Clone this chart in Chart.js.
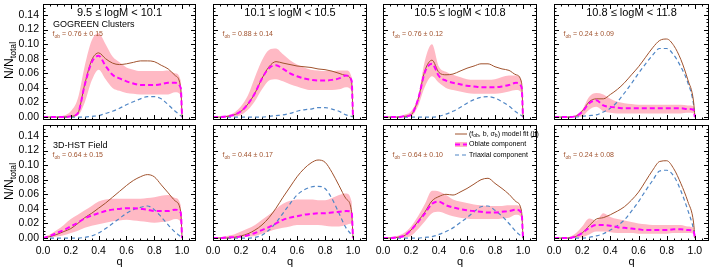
<!DOCTYPE html>
<html>
<head>
<meta charset="utf-8">
<script src="https://cdn.jsdelivr.net/npm/chart.js@4.4.1/dist/chart.umd.min.js"></script>
<style>
  body { margin: 0; background: #fff; }
  #wrap { position: relative; width: 720px; height: 271px; overflow: hidden; background: #fff; }
  canvas { position: absolute; }
</style>
</head>
<body>
<div id="wrap"></div>
<script>
// axial ratio grid
const q = [0, 0.05, 0.1, 0.15, 0.2, 0.25, 0.3, 0.35, 0.4, 0.45, 0.5, 0.55, 0.6, 0.65, 0.7, 0.75, 0.8, 0.85, 0.9, 0.95, 0.99, 1.0];
const xTicks = [0, 0.2, 0.4, 0.6, 0.8, 1.0];
const yTicks = [0, 0.02, 0.04, 0.06, 0.08, 0.10, 0.12, 0.14];

const massBins = ['9.5 \u2264 logM < 10.1', '10.1 \u2264 logM < 10.5', '10.5 \u2264 logM < 10.8', '10.8 \u2264 logM < 11.8'];
const samples = ['GOGREEN Clusters', '3D-HST Field'];
const fobClusters = ['0.76 \u00b1 0.15', '0.88 \u00b1 0.14', '0.76 \u00b1 0.12', '0.24 \u00b1 0.09'];
const fobField = ['0.64 \u00b1 0.15', '0.44 \u00b1 0.17', '0.64 \u00b1 0.10', '0.24 \u00b1 0.08'];

// GOGREEN clusters: model fit, oblate, triaxial, oblate band low/high
const g1fit = [0,0,0,0,0.001,0.005,0.045,0.078,0.088,0.080,0.074,0.072,0.073,0.075,0.077,0.077,0.076,0.071,0.066,0.057,0.040,0];
const g1obl = [0,0,0,0,0.001,0.005,0.044,0.075,0.084,0.070,0.058,0.053,0.049,0.046,0.044,0.044,0.044,0.045,0.047,0.047,0.040,0];
const g1tri = [0,0,0,0,0,0,0,0.001,0.002,0.005,0.008,0.012,0.017,0.021,0.025,0.028,0.028,0.025,0.017,0.008,0.002,0];
const g1lo  = [0,0,0,0,0,0.002,0.020,0.050,0.065,0.052,0.040,0.036,0.033,0.032,0.031,0.031,0.031,0.031,0.031,0.034,0.030,0];
const g1hi  = [0,0,0,0.002,0.008,0.025,0.070,0.105,0.115,0.100,0.083,0.075,0.068,0.065,0.063,0.063,0.063,0.063,0.064,0.060,0.050,0];

const g2fit = [0,0,0.001,0.003,0.008,0.018,0.033,0.053,0.069,0.076,0.074,0.072,0.070,0.069,0.068,0.066,0.065,0.063,0.060,0.057,0.049,0];
const g2obl = [0,0,0.001,0.003,0.008,0.018,0.033,0.053,0.067,0.071,0.066,0.060,0.056,0.053,0.051,0.050,0.050,0.051,0.053,0.057,0.050,0];
const g2tri = [0,0,0,0,0,0,0,0,0.001,0.002,0.003,0.005,0.008,0.010,0.011,0.013,0.013,0.011,0.008,0.003,0.001,0];
const g2lo  = [0,0,0,0.001,0.003,0.010,0.022,0.038,0.050,0.052,0.049,0.045,0.042,0.039,0.037,0.037,0.037,0.037,0.038,0.041,0.036,0];
const g2hi  = [0,0,0.002,0.006,0.015,0.030,0.055,0.078,0.092,0.094,0.086,0.078,0.072,0.068,0.065,0.064,0.063,0.063,0.064,0.064,0.055,0];

const g3fit = [0,0,0,0.001,0.003,0.024,0.064,0.078,0.061,0.058,0.059,0.063,0.067,0.070,0.073,0.073,0.069,0.066,0.064,0.058,0.047,0];
const g3obl = [0,0,0,0.001,0.003,0.024,0.062,0.073,0.056,0.050,0.047,0.045,0.043,0.042,0.041,0.041,0.041,0.042,0.044,0.047,0.041,0];
const g3tri = [0,0,0,0,0,0,0,0,0.001,0.004,0.008,0.013,0.019,0.024,0.027,0.028,0.026,0.021,0.015,0.007,0.002,0];
const g3lo  = [0,0,0,0,0.001,0.015,0.042,0.056,0.047,0.040,0.037,0.035,0.033,0.032,0.032,0.032,0.032,0.033,0.035,0.037,0.033,0];
const g3hi  = [0,0,0,0.003,0.008,0.028,0.078,0.100,0.069,0.062,0.058,0.055,0.052,0.051,0.051,0.051,0.052,0.055,0.057,0.057,0.050,0];

const g4fit = [0,0,0,0.001,0.008,0.021,0.025,0.025,0.031,0.038,0.047,0.058,0.069,0.082,0.095,0.105,0.107,0.098,0.079,0.051,0.022,0];
const g4obl = [0,0,0,0.001,0.007,0.019,0.023,0.016,0.014,0.013,0.012,0.012,0.012,0.012,0.012,0.012,0.012,0.012,0.012,0.011,0.010,0];
const g4tri = [0,0,0,0,0.001,0.002,0.003,0.007,0.012,0.021,0.033,0.046,0.060,0.073,0.085,0.094,0.094,0.085,0.069,0.047,0.018,0];
const g4lo  = [0,0,0,0,0.001,0.010,0.014,0.008,0.006,0.005,0.005,0.005,0.005,0.005,0.005,0.005,0.005,0.005,0.005,0.006,0.005,0];
const g4hi  = [0,0,0,0.002,0.010,0.028,0.033,0.031,0.025,0.021,0.019,0.018,0.017,0.017,0.017,0.017,0.017,0.017,0.017,0.016,0.015,0];

// 3D-HST field
const h1fit = [0,0.002,0.005,0.009,0.013,0.020,0.028,0.034,0.041,0.048,0.056,0.064,0.072,0.079,0.084,0.087,0.084,0.073,0.062,0.051,0.036,0];
const h1obl = [0,0.003,0.007,0.011,0.016,0.021,0.027,0.031,0.034,0.037,0.039,0.040,0.041,0.041,0.040,0.039,0.037,0.037,0.037,0.039,0.035,0];
const h1tri = [0,0,0,0,0,0,0.001,0.003,0.007,0.013,0.020,0.027,0.034,0.039,0.042,0.044,0.039,0.029,0.018,0.008,0.002,0];
const h1lo  = [0,0.001,0.002,0.004,0.007,0.010,0.014,0.017,0.019,0.021,0.023,0.024,0.025,0.024,0.023,0.022,0.021,0.022,0.023,0.026,0.022,0];
const h1hi  = [0,0.005,0.011,0.018,0.026,0.032,0.038,0.044,0.050,0.053,0.054,0.054,0.054,0.054,0.054,0.055,0.056,0.058,0.059,0.055,0.045,0];

const h2fit = [0,0,0,0.001,0.003,0.006,0.011,0.018,0.028,0.041,0.056,0.070,0.084,0.095,0.103,0.107,0.104,0.090,0.072,0.054,0.036,0];
const h2obl = [0,0,0.001,0.001,0.002,0.004,0.007,0.011,0.015,0.020,0.025,0.028,0.030,0.032,0.033,0.034,0.034,0.035,0.036,0.037,0.036,0];
const h2tri = [0,0,0,0,0,0,0.001,0.004,0.011,0.021,0.034,0.047,0.059,0.066,0.070,0.071,0.068,0.054,0.034,0.014,0.004,0];
const h2lo  = [0,0,0,0,0.001,0.002,0.003,0.006,0.009,0.012,0.014,0.016,0.018,0.018,0.018,0.018,0.017,0.016,0.016,0.018,0.020,0];
const h2hi  = [0,0.001,0.003,0.005,0.009,0.013,0.018,0.025,0.032,0.040,0.047,0.051,0.053,0.053,0.053,0.052,0.052,0.055,0.059,0.061,0.050,0];

const h3fit = [0,0,0.001,0.003,0.011,0.023,0.036,0.051,0.057,0.060,0.059,0.063,0.068,0.074,0.080,0.082,0.075,0.068,0.060,0.050,0.036,0];
const h3obl = [0,0,0.001,0.003,0.011,0.022,0.034,0.047,0.050,0.045,0.042,0.040,0.038,0.037,0.036,0.035,0.035,0.036,0.037,0.039,0.034,0];
const h3tri = [0,0,0,0,0,0,0.001,0.002,0.005,0.009,0.014,0.021,0.028,0.036,0.043,0.044,0.038,0.030,0.020,0.009,0.002,0];
const h3lo  = [0,0,0,0.001,0.003,0.012,0.023,0.034,0.036,0.033,0.030,0.028,0.027,0.026,0.026,0.026,0.026,0.027,0.028,0.032,0.028,0];
const h3hi  = [0,0.001,0.003,0.007,0.016,0.030,0.047,0.065,0.064,0.059,0.053,0.050,0.048,0.046,0.045,0.044,0.044,0.044,0.045,0.045,0.040,0];

const h4fit = [0,0,0,0.002,0.007,0.017,0.026,0.028,0.032,0.037,0.043,0.052,0.063,0.078,0.093,0.105,0.106,0.095,0.075,0.050,0.022,0];
const h4obl = [0,0,0,0.002,0.007,0.014,0.018,0.018,0.017,0.015,0.014,0.013,0.012,0.011,0.011,0.011,0.011,0.012,0.012,0.011,0.010,0];
const h4tri = [0,0,0,0,0,0.001,0.003,0.006,0.011,0.017,0.025,0.037,0.050,0.065,0.079,0.092,0.093,0.085,0.065,0.038,0.012,0];
const h4lo  = [0,0,0,0,0.001,0.005,0.009,0.009,0.008,0.007,0.007,0.007,0.006,0.006,0.006,0.006,0.006,0.007,0.007,0.007,0.006,0];
const h4hi  = [0,0,0.001,0.006,0.016,0.027,0.024,0.034,0.029,0.026,0.024,0.022,0.020,0.019,0.018,0.018,0.018,0.018,0.018,0.016,0.014,0];

const panels = [
  { fit: g1fit, obl: g1obl, tri: g1tri, lo: g1lo, hi: g1hi },
  { fit: g2fit, obl: g2obl, tri: g2tri, lo: g2lo, hi: g2hi },
  { fit: g3fit, obl: g3obl, tri: g3tri, lo: g3lo, hi: g3hi },
  { fit: g4fit, obl: g4obl, tri: g4tri, lo: g4lo, hi: g4hi },
  { fit: h1fit, obl: h1obl, tri: h1tri, lo: h1lo, hi: h1hi },
  { fit: h2fit, obl: h2obl, tri: h2tri, lo: h2lo, hi: h2hi },
  { fit: h3fit, obl: h3obl, tri: h3tri, lo: h3lo, hi: h3hi },
  { fit: h4fit, obl: h4obl, tri: h4tri, lo: h4lo, hi: h4hi },
];

const FONT = "'Liberation Sans', Arial, Helvetica, sans-serif";
const BROWN = '#a0522d';
const MAGENTA = '#ff00ff';
const BLUE = '#4f86c6';
const PINK = 'rgb(255,185,196)';

// panel layout
const colLeft = [43, 213, 383, 554];
const colW = [153, 154, 154, 155];
const rowTop = [4, 125];
const rowH = 116;

// text with subscripts: parts = [[text, isSub], ...]
function richText(ctx, parts, x, y, size) {
  for (const [t, sub] of parts) {
    ctx.font = (sub ? size * 0.72 : size) + 'px ' + FONT;
    ctx.fillText(t, x, sub ? y + size * 0.28 : y);
    x += ctx.measureText(t).width;
  }
  return x;
}

const framePlugin = {
  id: 'frame',
  afterDatasetsDraw(chart, args, o) {
    const { ctx, chartArea: a, scales: { x, y } } = chart;
    ctx.save();
    ctx.strokeStyle = '#000';
    ctx.lineWidth = 1;
    ctx.strokeRect(a.left + 0.5, a.top + 0.5, a.right - a.left - 1, a.bottom - a.top - 1);
    ctx.beginPath();
    for (let i = 0; i <= 22; i++) {
      const v = i * 0.05;
      const major = i % 4 === 0;
      const len = major ? 5 : 2.5;
      const px = Math.round(x.getPixelForValue(v)) + 0.5;
      if (px < a.left + 1 || px > a.right - 1) continue;
      ctx.moveTo(px, a.bottom); ctx.lineTo(px, a.bottom - len);
      ctx.moveTo(px, a.top); ctx.lineTo(px, a.top + len);
    }
    for (let i = 0; i <= 31; i++) {
      const v = i * 0.005;
      const major = i % 4 === 0;
      const len = major ? 5 : 2.5;
      const py = Math.round(y.getPixelForValue(v)) + 0.5;
      if (py < a.top + 1 || py > a.bottom - 1) continue;
      ctx.moveTo(a.left, py); ctx.lineTo(a.left + len, py);
      ctx.moveTo(a.right, py); ctx.lineTo(a.right - len, py);
    }
    ctx.stroke();

    ctx.textBaseline = 'middle';
    ctx.fillStyle = '#000';
    if (o.title) {
      ctx.font = '11px ' + FONT;
      ctx.textAlign = 'center';
      ctx.fillText(o.title, (a.left + a.right) / 2, a.top + 9);
    }
    ctx.textAlign = 'left';
    if (o.sample) {
      ctx.font = '9px ' + FONT;
      ctx.fillText(o.sample, a.left + 10, a.top + 20.5);
    }
    if (o.fob) {
      ctx.fillStyle = BROWN;
      richText(ctx, [['f', false], ['ob', true], [' = ' + o.fob, false]], a.left + 9.5, a.top + 30.5, 7);
    }
    if (o.legend) {
      const lx = a.left + 72, tx = a.left + 86;
      const ys = [a.top + 9, a.top + 19.5, a.top + 30];
      ctx.lineWidth = 1;
      ctx.strokeStyle = BROWN;
      ctx.beginPath(); ctx.moveTo(lx, ys[0]); ctx.lineTo(lx + 12, ys[0]); ctx.stroke();
      ctx.fillStyle = PINK;
      ctx.fillRect(lx, ys[1] - 2.5, 12, 5);
      ctx.strokeStyle = MAGENTA; ctx.lineWidth = 2; ctx.setLineDash([5, 3]);
      ctx.beginPath(); ctx.moveTo(lx, ys[1]); ctx.lineTo(lx + 12, ys[1]); ctx.stroke();
      ctx.strokeStyle = BLUE; ctx.lineWidth = 1.2; ctx.setLineDash([4, 3]);
      ctx.beginPath(); ctx.moveTo(lx, ys[2]); ctx.lineTo(lx + 12, ys[2]); ctx.stroke();
      ctx.setLineDash([]);
      ctx.fillStyle = '#000';
      richText(ctx, [['(f', false], ['ob', true], [', b, \u03c3', false], ['b', true], [') model fit (II)', false]], tx, ys[0], 7);
      richText(ctx, [['Oblate component', false]], tx, ys[1], 7);
      richText(ctx, [['Triaxial component', false]], tx, ys[2], 7);
    }
    if (o.ytitle) {
      ctx.fillStyle = '#000';
      ctx.translate(10, (a.top + a.bottom) / 2 - 1);
      ctx.rotate(-Math.PI / 2);
      ctx.font = '12px ' + FONT;
      const w1 = ctx.measureText('N/N').width;
      ctx.font = '8px ' + FONT;
      const w2 = ctx.measureText('total').width;
      richText(ctx, [['N/N', false], ['total', true]], -(w1 + w2) / 2, 0, 12);
    }
    ctx.restore();
  }
};

const wrap = document.getElementById('wrap');

panels.forEach((p, i) => {
  const row = Math.floor(i / 4), col = i % 4;
  const padL = col === 0 ? 0 : 15;
  const yW = col === 0 ? colLeft[0] : 0;
  const cLeft = colLeft[col] - (col === 0 ? colLeft[0] : padL);
  const cW = colLeft[col] + colW[col] + 2 - cLeft;
  const padT = row === 0 ? rowTop[0] : 2;
  const cTop = rowTop[row] - padT;
  const xH = row === 1 ? 271 - rowTop[1] - rowH : 0;
  const cH = padT + rowH + (row === 1 ? xH : 2);

  const cv = document.createElement('canvas');
  cv.width = cW; cv.height = cH;
  cv.style.left = cLeft + 'px'; cv.style.top = cTop + 'px';
  cv.style.width = cW + 'px'; cv.style.height = cH + 'px';
  wrap.appendChild(cv);

  const line = (arr, extra) => Object.assign({
    data: q.map((v, k) => ({ x: v, y: arr[k] })),
    pointRadius: 0,
    borderWidth: 1,
    cubicInterpolationMode: 'monotone',
    fill: false
  }, extra);

  new Chart(cv, {
    type: 'line',
    data: {
      datasets: [
        line(p.hi, { borderColor: 'rgba(0,0,0,0)', backgroundColor: PINK, fill: '+1', order: 5 }),
        line(p.lo, { borderColor: 'rgba(0,0,0,0)', order: 4 }),
        line(p.tri, { borderColor: BLUE, borderWidth: 1.2, borderDash: [4, 3], order: 3 }),
        line(p.fit, { borderColor: BROWN, borderWidth: 1, order: 2 }),
        line(p.obl, { borderColor: MAGENTA, borderWidth: 2, borderDash: [5, 3], order: 1 })
      ]
    },
    options: {
      responsive: false,
      animation: false,
      events: [],
      layout: { autoPadding: false, padding: { left: padL, right: 2, top: padT, bottom: row === 1 ? 0 : 2 } },
      plugins: {
        legend: { display: false },
        tooltip: { enabled: false },
        frame: {
          title: row === 0 ? massBins[col] : null,
          sample: col === 0 ? samples[row] : null,
          fob: row === 0 ? fobClusters[col] : fobField[col],
          legend: i === 6,
          ytitle: col === 0
        }
      },
      scales: {
        x: {
          type: 'linear', min: 0, max: 1.1,
          display: row === 1,
          grid: { display: false, drawTicks: false },
          border: { display: false },
          afterBuildTicks: s => { s.ticks = xTicks.map(v => ({ value: v })); },
          afterFit: s => { s.height = xH; s.paddingLeft = 0; s.paddingRight = 0; },
          ticks: { autoSkip: false, maxRotation: 0, padding: 4, color: '#000',
                   font: { family: FONT, size: 10.5 }, callback: v => v.toFixed(1) },
          title: { display: true, text: 'q', color: '#000', font: { family: FONT, size: 11 },
                   padding: { top: 0, bottom: 2 } }
        },
        y: {
          type: 'linear', min: -0.004, max: 0.155,
          display: col === 0,
          grid: { display: false, drawTicks: false },
          border: { display: false },
          afterBuildTicks: s => { s.ticks = yTicks.map(v => ({ value: v })); },
          afterFit: s => { s.width = yW; s.paddingTop = 0; s.paddingBottom = 0; },
          ticks: { autoSkip: false, padding: 4, color: '#000',
                   font: { family: FONT, size: 10.5 }, callback: v => v.toFixed(2) }
        }
      }
    },
    plugins: [framePlugin]
  });
});
</script>
</body>
</html>
